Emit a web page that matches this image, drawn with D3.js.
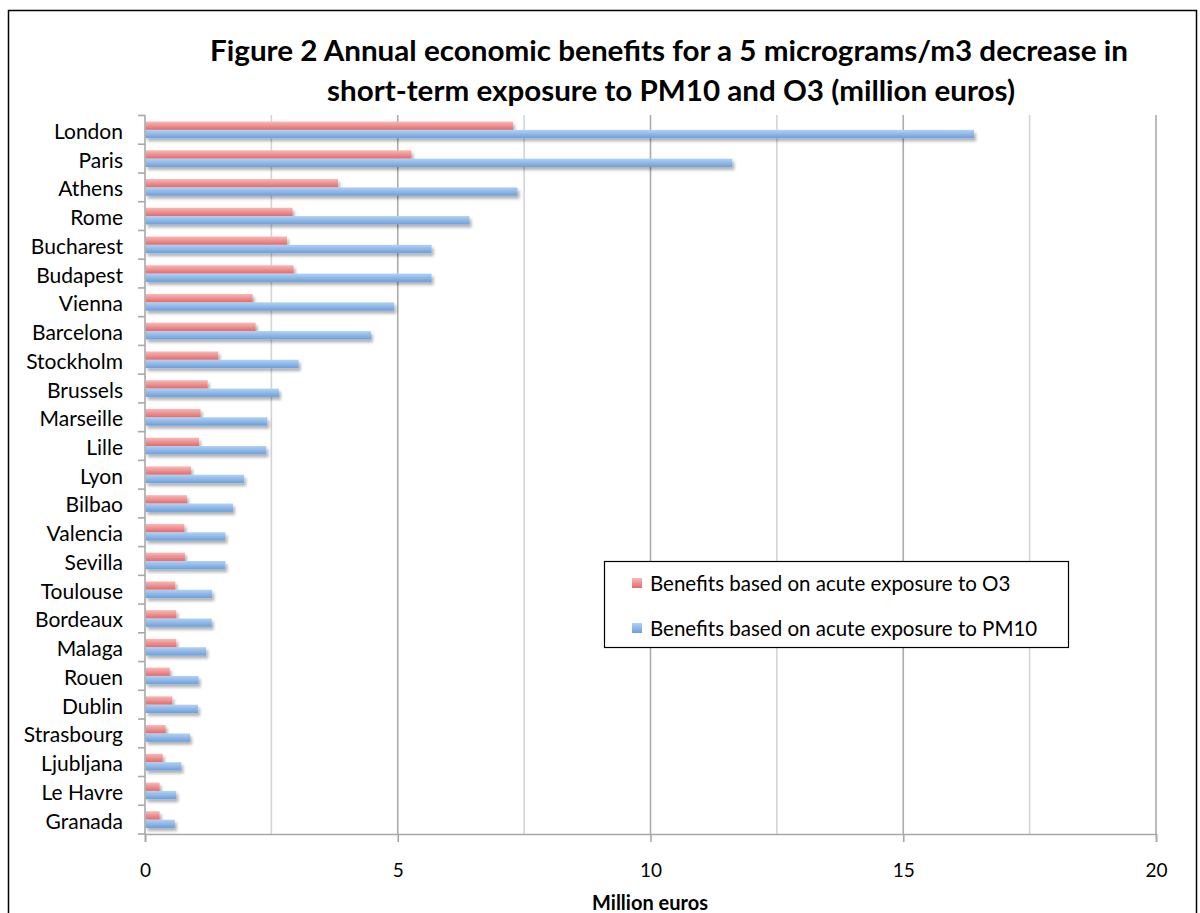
<!DOCTYPE html>
<html>
<head>
<meta charset="utf-8">
<script src="https://cdn.jsdelivr.net/npm/d3@7"></script>
<style>
  body { margin: 0; background: #fff; }
  svg { display: block; }
</style>
</head>
<body>
<svg width="1200" height="913"></svg>
<script>
// cities, top to bottom
var cities = ["London", "Paris", "Athens", "Rome", "Bucharest", "Budapest", "Vienna", "Barcelona",
  "Stockholm", "Brussels", "Marseille", "Lille", "Lyon", "Bilbao", "Valencia", "Sevilla",
  "Toulouse", "Bordeaux", "Malaga", "Rouen", "Dublin", "Strasbourg", "Ljubljana", "Le Havre", "Granada"];

// million euros
var o3 = [7.27, 5.26, 3.81, 2.91, 2.80, 2.93, 2.12, 2.18,
  1.44, 1.23, 1.09, 1.06, 0.90, 0.82, 0.77, 0.78,
  0.59, 0.61, 0.61, 0.48, 0.53, 0.40, 0.34, 0.28, 0.28];
var pm10 = [16.39, 11.61, 7.36, 6.41, 5.66, 5.66, 4.92, 4.46,
  3.03, 2.64, 2.41, 2.39, 1.95, 1.73, 1.58, 1.58,
  1.32, 1.31, 1.20, 1.05, 1.04, 0.88, 0.71, 0.61, 0.58];

var seriesNames = ["Benefits based on acute exposure to O3", "Benefits based on acute exposure to PM10"];
var xTicks = [0, 5, 10, 15, 20];
var xGrid = [2.5, 5, 7.5, 10, 12.5, 15, 17.5, 20];

var svg = d3.select("svg");
var font = "Lato, 'Open Sans', sans-serif";

// outer frame
svg.append("rect")
  .attr("x", 8.5).attr("y", 10.5)
  .attr("width", 1188).attr("height", 1000)
  .attr("fill", "none").attr("stroke", "#000").attr("stroke-width", 1.5);

var defs = svg.append("defs");
function grad(id, top, bottom) {
  var g = defs.append("linearGradient").attr("id", id)
    .attr("x1", 0).attr("y1", 0).attr("x2", 0).attr("y2", 1);
  g.append("stop").attr("offset", "0%").attr("stop-color", top);
  g.append("stop").attr("offset", "100%").attr("stop-color", bottom);
}
grad("gRed", "#f8b9b8", "#e26a6a");
grad("gBlue", "#b3d1f3", "#6b9fdc");

var sh = defs.append("filter").attr("id", "shadow")
  .attr("x", "-5%").attr("y", "-50%").attr("width", "115%").attr("height", "250%");
sh.append("feDropShadow").attr("dx", 2).attr("dy", 3)
  .attr("stdDeviation", 1.6).attr("flood-color", "#000").attr("flood-opacity", 0.3);

var x = d3.scaleLinear().domain([0, 20]).range([145, 1156]);
var y = d3.scaleBand().domain(cities).range([115.5, 834]);
var sub = d3.scaleBand().domain([0, 1]).range([0, y.bandwidth()])
  .paddingInner(0).paddingOuter(0.72);

// gridlines
svg.append("g").selectAll("line")
  .data(xGrid)
  .enter().append("line")
  .attr("x1", function (d) { return x(d); })
  .attr("x2", function (d) { return x(d); })
  .attr("y1", 115).attr("y2", 834)
  .attr("stroke", function (d) { return d % 5 == 0 ? "#ababab" : "#d4d4d4"; })
  .attr("stroke-width", 1.6);

// bars
var fills = ["url(#gRed)", "url(#gBlue)"];
[o3, pm10].forEach(function (vals, s) {
  svg.append("g")
    .attr("filter", "url(#shadow)")
    .selectAll("rect")
    .data(vals)
    .enter().append("rect")
    .attr("x", x(0) + 0.5)
    .attr("y", function (d, i) { return y(cities[i]) + sub(s); })
    .attr("width", function (d) { return x(d) - x(0); })
    .attr("height", sub.bandwidth())
    .attr("fill", fills[s]);
});

// x axis
var xAxis = svg.append("g")
  .attr("transform", "translate(0,834)")
  .call(d3.axisBottom(x).tickValues(xTicks).tickSize(8).tickPadding(22).tickFormat(d3.format("d")));
xAxis.select(".domain").attr("stroke", "#a8a8a8").attr("stroke-width", 1.6);
xAxis.selectAll(".tick line").attr("stroke", "#a8a8a8").attr("stroke-width", 1.6);
xAxis.selectAll("text").attr("font-family", font).attr("font-size", "19px").attr("fill", "#000");

// y axis with ticks between categories
var yAxis = svg.append("g");
yAxis.append("line")
  .attr("x1", 145).attr("x2", 145).attr("y1", 115).attr("y2", 834)
  .attr("stroke", "#a8a8a8").attr("stroke-width", 1.6);
yAxis.selectAll(".tk")
  .data(cities)
  .enter().append("line")
  .attr("x1", 138).attr("x2", 145)
  .attr("y1", function (d) { return y(d); })
  .attr("y2", function (d) { return y(d); })
  .attr("stroke", "#a8a8a8").attr("stroke-width", 1.6);
yAxis.append("line")
  .attr("x1", 138).attr("x2", 145).attr("y1", 834).attr("y2", 834)
  .attr("stroke", "#a8a8a8").attr("stroke-width", 1.6);
yAxis.selectAll("text")
  .data(cities)
  .enter().append("text")
  .attr("x", 123)
  .attr("y", function (d) { return y(d) + y.bandwidth() / 2 + 9; })
  .attr("text-anchor", "end")
  .attr("font-family", font)
  .attr("font-size", "21px")
  .text(function (d) { return d; });

// title
var title = svg.append("g").attr("font-family", font).attr("font-weight", "bold")
  .attr("font-size", "29px").attr("text-anchor", "middle");
title.append("text").attr("x", 669).attr("y", 61)
  .attr("textLength", 918).attr("lengthAdjust", "spacingAndGlyphs")
  .text("Figure 2 Annual economic benefits for a 5 micrograms/m3 decrease in");
title.append("text").attr("x", 671).attr("y", 101)
  .attr("textLength", 688).attr("lengthAdjust", "spacingAndGlyphs")
  .text("short-term exposure to PM10 and O3 (million euros)");

// x axis title
svg.append("text")
  .attr("x", 650).attr("y", 910)
  .attr("text-anchor", "middle")
  .attr("font-family", font).attr("font-weight", "bold").attr("font-size", "20px")
  .text("Million euros");

// legend
var lg = svg.append("g");
lg.append("rect")
  .attr("x", 604.5).attr("y", 561.5).attr("width", 464).attr("height", 86)
  .attr("fill", "#fff").attr("stroke", "#000").attr("stroke-width", 1.2);
var lgItems = lg.selectAll(".item")
  .data(seriesNames)
  .enter().append("g")
  .attr("transform", function (d, i) { return "translate(632," + (578 + i * 45) + ")"; });
lgItems.append("rect")
  .attr("width", 10).attr("height", 10)
  .attr("fill", function (d, i) { return fills[i]; });
lgItems.append("text")
  .attr("x", 18).attr("y", 13)
  .attr("font-family", font).attr("font-size", "20.5px")
  .text(function (d) { return d; });
</script>
</body>
</html>
